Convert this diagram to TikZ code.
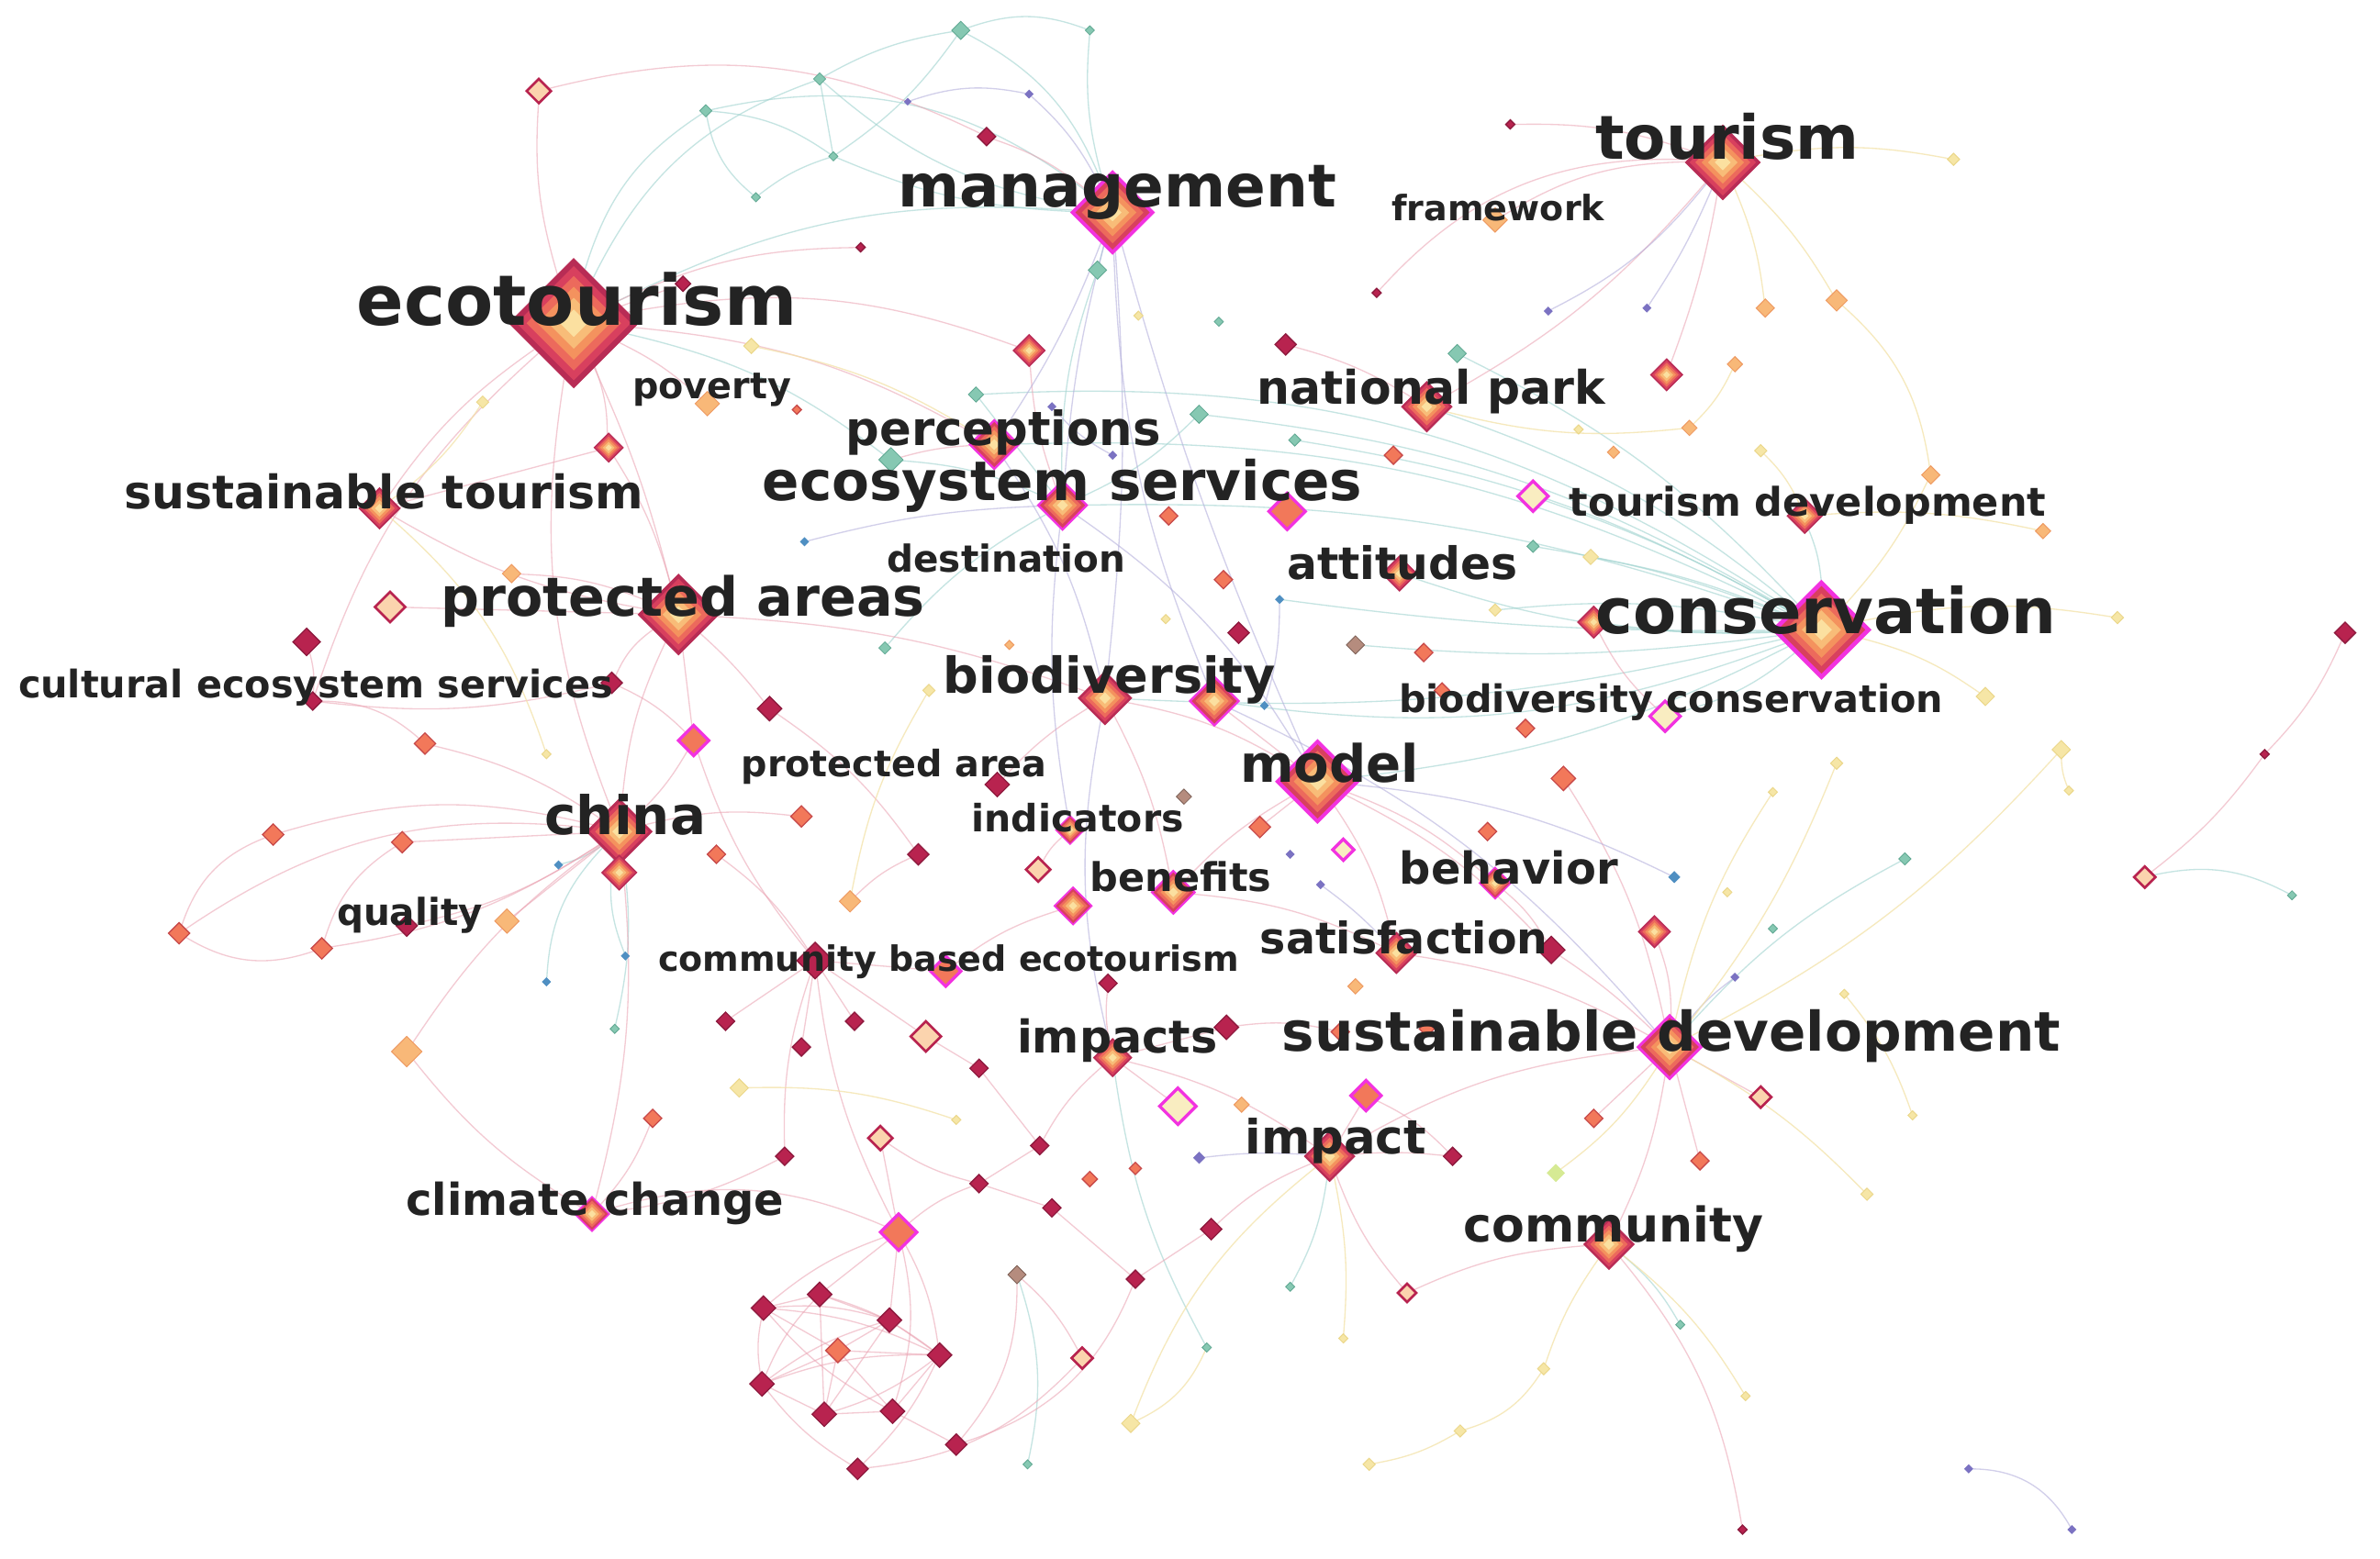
\documentclass[tikz,border=0pt]{standalone}
\usepackage{fontspec}
\setmainfont{DejaVu Sans}
\usetikzlibrary{shapes.geometric}
\pgfdeclarelayer{bg}
\pgfsetlayers{bg,main}
\definecolor{crim}{HTML}{B8234F}
\definecolor{crimD}{HTML}{8E1A3E}
\definecolor{orng}{HTML}{F2785A}
\definecolor{orngD}{HTML}{C84A4A}
\definecolor{pch}{HTML}{F8B878}
\definecolor{pchD}{HTML}{EE9A62}
\definecolor{yel}{HTML}{F6E6A6}
\definecolor{yelD}{HTML}{EBD78A}
\definecolor{tea}{HTML}{86C8B2}
\definecolor{teaD}{HTML}{5FA892}
\definecolor{vio}{HTML}{7B72C2}
\definecolor{mgt}{HTML}{F232E0}
\definecolor{blu}{HTML}{4F8FC2}
\definecolor{brn}{HTML}{B58C7E}
\definecolor{pgr}{HTML}{D6EA94}
\definecolor{crimB}{HTML}{B82C55}
\definecolor{hA}{HTML}{D8405E}
\definecolor{hB}{HTML}{EC6A5C}
\definecolor{hC}{HTML}{F4925E}
\definecolor{hD}{HTML}{F8BC78}
\definecolor{hE}{HTML}{FBE0A0}
\definecolor{txt}{HTML}{232323}
\definecolor{eTc}{HTML}{9FD3CF}
\definecolor{ePc}{HTML}{EAA0B0}
\definecolor{eYc}{HTML}{F3E2A8}
\definecolor{eVc}{HTML}{B4B0DC}
\tikzset{
  dm/.style={diamond, inner sep=0pt, outer sep=0pt, minimum size=#1*1pt},
  kcr/.style={fill=crim, draw=crimD, line width=0.8pt},
  kor/.style={fill=orng, draw=orngD, line width=0.8pt},
  kpe/.style={fill=pch, draw=pchD, line width=0.6pt},
  kye/.style={fill=yel, draw=yelD, line width=0.6pt},
  kte/.style={fill=tea, draw=teaD, line width=0.5pt},
  kvi/.style={fill=vio},
  kmh/.style={fill=yel!70!white, draw=mgt, line width=2pt},
  krh/.style={fill=pch!60!white, draw=crim, line width=1.6pt},
  kmr/.style={fill=orng, draw=mgt, line width=2pt},
  kbl/.style={fill=blu},
  kbr/.style={fill=brn, draw=brn!70!black, line width=0.5pt},
  kpg/.style={fill=pgr},
  eT/.style={draw=eTc, line width=0.8pt, opacity=0.6},
  eP/.style={draw=ePc, line width=0.8pt, opacity=0.55},
  eY/.style={draw=eYc, line width=0.8pt, opacity=0.75},
  eV/.style={draw=eVc, line width=0.8pt, opacity=0.6},
  lab/.style={text=txt, inner sep=0pt, outer sep=0pt},
}
\newcommand\hub[5]{%
  \node[dm={2*#4}, fill=#5] (#1) at (#2,#3) {};
  \node[dm={1.75*#4}, fill=hA] at (#2,#3) {};
  \node[dm={1.45*#4}, fill=hB] at (#2,#3) {};
  \node[dm={1.12*#4}, fill=hC] at (#2,#3) {};
  \node[dm={0.78*#4}, fill=hD] at (#2,#3) {};
  \node[dm={0.42*#4}, fill=hE] at (#2,#3) {};
}
\newcommand\sn[4]{\node[dm={2*#3}, #4] (n#1a#2) at (#1,#2) {};}
\newcommand\lbl[5]{\node[lab, font=\bfseries\fontsize{#4}{#4}\selectfont] (#1) at (#2,#3) {#5};}
\begin{document}
\begin{tikzpicture}[x=1pt,y=-1pt]
\useasboundingbox (0,0) rectangle (1568,1027);
% ---------- small nodes ----------
\sn{633}{20}{6}{kte}
\sn{355}{60}{8}{krh}
\sn{650}{90}{6}{kcr}
\sn{465}{73}{4}{kte}
\sn{540}{52}{4}{kte}
\sn{498}{130}{3}{kte}
\sn{549}{103}{3}{kte}
\sn{678}{62}{3}{kvi}
\sn{718}{20}{3}{kte}
\sn{598}{67}{2.5}{kvi}
\sn{567}{163}{3}{kcr}
\sn{995}{82}{3}{kcr}
\sn{907}{193}{3}{kcr}
\sn{1020}{205}{3}{kvi}
\sn{1085}{203}{3}{kvi}
\sn{1287}{105}{4}{kye}
\sn{723}{178}{6}{kte}
\sn{847}{227}{7}{kcr}
\sn{803}{212}{3}{kte}
\sn{750}{208}{3}{kye}
\sn{960}{233}{6}{kte}
\sn{1163}{203}{6}{kpe}
\sn{1210}{198}{7}{kpe}
\sn{1143}{240}{5}{kpe}
\sn{1113}{282}{5}{kpe}
\sn{1160}{297}{4}{kye}
\sn{1272}{313}{6}{kpe}
\sn{1346}{350}{5}{kpe}
\sn{918}{300}{6}{kor}
\sn{790}{273}{6}{kte}
\sn{853}{290}{4}{kte}
\sn{643}{260}{5}{kte}
\sn{693}{268}{3}{kvi}
\sn{733}{300}{3}{kvi}
\sn{587}{303}{8}{kte}
\sn{848}{337}{12}{kmr}
\sn{1010}{327}{10}{kmh}
\sn{1040}{283}{3}{kye}
\sn{1063}{298}{4}{kpe}
\sn{770}{340}{6}{kor}
\sn{806}{382}{6}{kor}
\sn{816}{417}{7}{kcr}
\sn{893}{425}{6}{kbr}
\sn{938}{430}{6}{kor}
\sn{985}{402}{4}{kye}
\sn{1048}{367}{5}{kye}
\sn{1010}{360}{4}{kte}
\sn{1395}{407}{4}{kye}
\sn{1545}{417}{7}{kcr}
\sn{1492}{497}{3}{kcr}
\sn{1413}{578}{7}{krh}
\sn{1308}{459}{6}{kye}
\sn{1358}{494}{6}{kye}
\sn{1363}{521}{3}{kye}
\sn{1255}{566}{4}{kte}
\sn{1168}{522}{3}{kye}
\sn{1210}{503}{4}{kye}
\sn{1030}{513}{8}{kor}
\sn{1005}{480}{6}{kor}
\sn{980}{548}{6}{kor}
\sn{1097}{472}{10}{kmh}
\sn{1103}{578}{4}{kbl}
\sn{1138}{588}{3}{kye}
\sn{1168}{612}{3}{kte}
\sn{1022}{626}{9}{kcr}
\sn{1160}{723}{7}{krh}
\sn{1143}{644}{3}{kvi}
\sn{1215}{655}{3}{kye}
\sn{1260}{735}{3}{kye}
\sn{1050}{737}{6}{kor}
\sn{1120}{765}{6}{kor}
\sn{1025}{773}{6}{kpg}
\sn{1230}{787}{4}{kye}
\sn{1107}{873}{3}{kte}
\sn{1150}{920}{3}{kye}
\sn{1148}{1008}{3}{kcr}
\sn{1297}{968}{3}{kvi}
\sn{1365}{1008}{3}{kvi}
\sn{927}{852}{6}{krh}
\sn{957}{762}{6}{kcr}
\sn{1017}{902}{4}{kye}
\sn{962}{943}{4}{kye}
\sn{902}{965}{4}{kye}
\sn{885}{882}{3}{kye}
\sn{850}{848}{3}{kte}
\sn{795}{888}{3}{kte}
\sn{745}{938}{6}{kye}
\sn{713}{895}{7}{krh}
\sn{677}{965}{3}{kte}
\sn{630}{952}{7}{kcr}
\sn{565}{968}{7}{kcr}
\sn{670}{840}{6}{kbr}
\sn{748}{843}{6}{kcr}
\sn{798}{810}{7}{kcr}
\sn{693}{796}{6}{kcr}
\sn{718}{777}{5}{kor}
\sn{748}{770}{4}{kor}
\sn{790}{763}{4}{kvi}
\sn{776}{729}{12}{kmh}
\sn{818}{728}{5}{kpe}
\sn{900}{722}{10}{kmr}
\sn{883}{680}{6}{kor}
\sn{940}{678}{5}{kor}
\sn{808}{677}{8}{kcr}
\sn{893}{650}{5}{kpe}
\sn{850}{563}{3}{kvi}
\sn{885}{560}{7}{kmh}
\sn{870}{583}{3}{kvi}
\sn{830}{545}{7}{kor}
\sn{780}{525}{5}{kbr}
\sn{730}{648}{6}{kcr}
\sn{684}{573}{8}{krh}
\sn{657}{517}{8}{kcr}
\sn{623}{640}{10}{kmr}
\sn{610}{683}{10}{krh}
\sn{560}{594}{7}{kpe}
\sn{605}{563}{7}{kcr}
\sn{528}{538}{7}{kor}
\sn{537}{633}{12}{kcr}
\sn{507}{467}{8}{kcr}
\sn{457}{488}{10}{kmr}
\sn{403}{450}{7}{kcr}
\sn{360}{497}{3}{kye}
\sn{334}{607}{8}{kpe}
\sn{268}{610}{7}{kcr}
\sn{280}{490}{7}{kor}
\sn{265}{555}{7}{kor}
\sn{180}{550}{7}{kor}
\sn{118}{615}{7}{kor}
\sn{212}{625}{7}{kor}
\sn{202}{423}{9}{kcr}
\sn{257}{400}{10}{krh}
\sn{206}{462}{6}{kcr}
\sn{337}{378}{6}{kpe}
\sn{466}{266}{8}{kpe}
\sn{318}{265}{4}{kye}
\sn{495}{228}{5}{kye}
\sn{450}{187}{5}{kcr}
\sn{525}{270}{3}{kor}
\sn{368}{570}{3}{kbl}
\sn{412}{630}{3}{kbl}
\sn{360}{647}{3}{kbl}
\sn{405}{678}{3}{kte}
\sn{268}{693}{10}{kpe}
\sn{472}{563}{6}{kor}
\sn{430}{737}{6}{kor}
\sn{487}{717}{6}{kye}
\sn{478}{673}{6}{kcr}
\sn{528}{690}{6}{kcr}
\sn{563}{673}{6}{kcr}
\sn{517}{762}{6}{kcr}
\sn{580}{750}{8}{krh}
\sn{645}{704}{6}{kcr}
\sn{630}{738}{3}{kye}
\sn{685}{755}{6}{kcr}
\sn{645}{780}{6}{kcr}
\sn{592}{812}{12}{kmr}
\sn{503}{862}{8}{kcr}
\sn{540}{853}{8}{kcr}
\sn{586}{870}{8}{kcr}
\sn{552}{890}{8}{kor}
\sn{502}{912}{8}{kcr}
\sn{543}{932}{8}{kcr}
\sn{588}{930}{8}{kcr}
\sn{619}{893}{8}{kcr}
\sn{583}{427}{4}{kte}
\sn{530}{357}{3}{kbl}
\sn{665}{425}{3}{kpe}
\sn{843}{395}{3}{kbl}
\sn{833}{465}{3}{kbl}
\sn{950}{455}{5}{kor}
\sn{612}{455}{4}{kye}
\sn{768}{408}{3}{kye}
\sn{1510}{590}{3}{kte}
% ---------- hubs ----------
\hub{h678}{678}{231}{11}{crimB}
\hub{h1098}{1098}{247}{11}{crimB}
\hub{h1050}{1050}{410}{11}{crimB}
\hub{h1090}{1090}{614}{11}{crimB}
\hub{h401}{401}{295}{10}{crimB}
\hub{eco}{378}{213}{43}{crimB}
\hub{mgmt}{733}{140}{28}{mgt}
\hub{tour}{1135}{107}{25}{crimB}
\hub{natp}{940}{268}{17}{crimB}
\hub{perc}{655}{293}{17}{mgt}
\hub{ecos}{700}{333}{17}{mgt}
\hub{sust}{250}{335}{14}{crimB}
\hub{tdev}{1189}{340}{12}{crimB}
\hub{pa}{447}{405}{27}{crimB}
\hub{cons}{1200}{415}{33}{mgt}
\hub{bio}{728}{460}{18}{crimB}
\hub{bioB}{800}{462}{17}{mgt}
\hub{model}{868}{515}{28}{mgt}
\hub{china}{408}{548}{22}{crimB}
\hub{chinaB}{408}{575}{12}{crimB}
\hub{att}{922}{378}{12}{crimB}
\hub{imps}{733}{697}{13}{crimB}
\hub{sd}{1100}{690}{22}{mgt}
\hub{imp}{876}{762}{17}{crimB}
\hub{comm}{1060}{820}{17}{crimB}
\hub{cc}{390}{800}{12}{mgt}
\hub{sat}{920}{628}{14}{crimB}
\hub{beh}{985}{582}{11}{mgt}
\hub{ben}{773}{588}{15}{mgt}
\hub{benB}{707}{597}{13}{mgt}
\hub{ind}{705}{547}{10}{mgt}
\node[dm=16, kpe] (fw) at (985,145) {};
% ---------- edges ----------
\begin{pgfonlayer}{bg}
\fill[white] (0,0) rectangle (1568,1027);
% teal
\draw[eT] (cons) to[bend left=5] (h1050);
\draw[eT] (cons) to[bend left=10] (att);
\draw[eT] (cons) to[bend right=10] (ecos);
\draw[eT] (cons) to[bend right=14] (perc);
\draw[eT] (cons) to[bend right=10] (natp);
\draw[eT] (cons) to[bend right=6] (n1010a360);
\draw[eT] (cons) to[bend right=10] (n853a290);
\draw[eT] (cons) to[bend right=12] (n790a273);
\draw[eT] (cons) to[bend left=8] (bio);
\draw[eT] (cons) to[bend right=5] (n1010a327);
\draw[eT] (cons) to[bend left=10] (model);
\draw[eT] (cons) to[bend left=4] (n843a395);
\draw[eT] (cons) to[bend left=6] (n893a425);
\draw[eT] (cons) to[bend right=8] (n985a402);
\draw[eT] (cons) to[bend right=8] (tdev);
\draw[eT] (cons) to[bend left=12] (n1097a472);
\draw[eT] (cons) to[bend right=18] (n643a260);
\draw[eT] (cons) to[bend left=14] (bioB);
\draw[eT] (cons) to[bend right=6] (n1048a367);
\draw[eT] (mgmt) to (n723a178);
\draw[eT] (mgmt) to[bend right=20] (n633a20);
\draw[eT] (mgmt) to[bend right=25] (n465a73);
\draw[eT] (mgmt) to[bend left=15] (n540a52);
\draw[eT] (mgmt) to[bend left=10] (n718a20);
\draw[eT] (mgmt) to[bend left=10] (n549a103);
\draw[eT] (n465a73) to[bend right=20] (n498a130);
\draw[eT] (n465a73) to[bend left=15] (n549a103);
\draw[eT] (n540a52) to (n549a103);
\draw[eT] (n540a52) to[bend left=10] (n633a20);
\draw[eT] (n498a130) to[bend left=10] (n549a103);
\draw[eT] (n633a20) to[bend left=20] (n718a20);
\draw[eT] (n549a103) to[bend right=10] (n633a20);
\draw[eT] (eco) to[bend left=20] (n465a73);
\draw[eT] (eco) to[bend left=15] (mgmt);
\draw[eT] (eco) to[bend left=22] (n540a52);
\draw[eT] (n643a260) to (ecos);
\draw[eT] (n790a273) to[bend left=10] (ecos);
\draw[eT] (n587a303) to[bend left=10] (ecos);
\draw[eT] (n587a303) to[bend right=12] (eco);
\draw[eT] (n723a178) to[bend right=10] (ecos);
\draw[eT] (n960a233) to[bend left=10] (cons);
\draw[eT] (sd) to[bend left=10] (n1255a566);
\draw[eT] (n1413a578) to[bend left=20] (n1510a590);
\draw[eT] (china) to[bend left=10] (n368a570);
\draw[eT] (china) to[bend right=15] (n412a630);
\draw[eT] (china) to[bend right=20] (n360a647);
\draw[eT] (china) to[bend left=10] (n405a678);
\draw[eT] (n583a427) to[bend left=10] (ecos);
\draw[eT] (comm) to[bend left=10] (n1107a873);
\draw[eT] (imp) to[bend left=10] (n850a848);
\draw[eT] (n795a888) to[bend left=10] (imps);
\draw[eT] (n677a965) to[bend right=15] (n670a840);
% pink
\draw[eP] (tour) to[bend right=15] (fw);
\draw[eP] (tour) to[bend right=10] (n995a82);
\draw[eP] (tour) to[bend right=25] (n907a193);
\draw[eP] (tour) to[bend left=10] (natp);
\draw[eP] (tour) to[bend left=5] (h1098);
\draw[eP] (eco) to[bend left=10] (h401);
\draw[eP] (eco) to (n450a187);
\draw[eP] (eco) to[bend left=12] (n567a163);
\draw[eP] (eco) to[bend right=10] (sust);
\draw[eP] (eco) to[bend left=5] (pa);
\draw[eP] (eco) to[bend right=15] (china);
\draw[eP] (eco) to[bend left=12] (perc);
\draw[eP] (eco) to[bend left=10] (n355a60);
\draw[eP] (eco) to[bend right=15] (n206a462);
\draw[eP] (eco) to[bend left=15] (h678);
\draw[eP] (eco) to[bend left=8] (n466a266);
\draw[eP] (n355a60) to[bend left=20] (n650a90);
\draw[eP] (n650a90) to[bend left=10] (mgmt);
\draw[eP] (pa) to[bend left=10] (sust);
\draw[eP] (pa) to[bend right=10] (china);
\draw[eP] (pa) to (n257a400);
\draw[eP] (pa) to[bend left=5] (n507a467);
\draw[eP] (pa) to[bend left=8] (bio);
\draw[eP] (pa) to (n457a488);
\draw[eP] (pa) to[bend right=10] (n337a378);
\draw[eP] (pa) to[bend right=15] (n403a450);
\draw[eP] (china) to (n265a555);
\draw[eP] (china) to[bend left=10] (n268a610);
\draw[eP] (china) to[bend right=10] (n280a490);
\draw[eP] (china) to (n334a607);
\draw[eP] (china) to[bend right=15] (n180a550);
\draw[eP] (china) to[bend right=20] (n118a615);
\draw[eP] (china) to[bend left=12] (n212a625);
\draw[eP] (china) to[bend left=10] (cc);
\draw[eP] (china) to[bend right=10] (n268a693);
\draw[eP] (china) to[bend left=10] (n528a538);
\draw[eP] (china) to[bend right=8] (n457a488);
\draw[eP] (n118a615) to[bend left=25] (n180a550);
\draw[eP] (n212a625) to[bend left=20] (n265a555);
\draw[eP] (n118a615) to[bend right=25] (n212a625);
\draw[eP] (n202a423) to[bend left=10] (n206a462);
\draw[eP] (n206a462) to[bend right=10] (n403a450);
\draw[eP] (n206a462) to[bend left=20] (n280a490);
\draw[eP] (n503a862) to (n540a853);
\draw[eP] (n503a862) to[bend left=10] (n586a870);
\draw[eP] (n503a862) to (n552a890);
\draw[eP] (n503a862) to[bend right=10] (n502a912);
\draw[eP] (n503a862) to[bend left=10] (n619a893);
\draw[eP] (n503a862) to[bend right=10] (n588a930);
\draw[eP] (n540a853) to (n586a870);
\draw[eP] (n540a853) to[bend right=10] (n502a912);
\draw[eP] (n540a853) to (n543a932);
\draw[eP] (n540a853) to[bend left=10] (n619a893);
\draw[eP] (n586a870) to (n552a890);
\draw[eP] (n586a870) to (n619a893);
\draw[eP] (n586a870) to[bend right=10] (n502a912);
\draw[eP] (n586a870) to (n543a932);
\draw[eP] (n552a890) to (n502a912);
\draw[eP] (n552a890) to (n543a932);
\draw[eP] (n552a890) to (n588a930);
\draw[eP] (n552a890) to (n619a893);
\draw[eP] (n502a912) to (n543a932);
\draw[eP] (n502a912) to[bend left=10] (n619a893);
\draw[eP] (n543a932) to (n588a930);
\draw[eP] (n588a930) to (n619a893);
\draw[eP] (n543a932) to[bend right=10] (n619a893);
\draw[eP] (n592a812) to (n540a853);
\draw[eP] (n592a812) to (n586a870);
\draw[eP] (n592a812) to[bend right=10] (n503a862);
\draw[eP] (n592a812) to[bend left=15] (n588a930);
\draw[eP] (n592a812) to[bend left=10] (n619a893);
\draw[eP] (n592a812) to[bend right=20] (cc);
\draw[eP] (n592a812) to[bend left=10] (n537a633);
\draw[eP] (n592a812) to (n580a750);
\draw[eP] (n592a812) to[bend left=10] (n645a780);
\draw[eP] (n565a968) to[bend left=10] (n502a912);
\draw[eP] (n565a968) to[bend right=10] (n619a893);
\draw[eP] (n630a952) to (n588a930);
\draw[eP] (n630a952) to[bend right=20] (n670a840);
\draw[eP] (n565a968) to[bend right=20] (n713a895);
\draw[eP] (n670a840) to[bend left=10] (n713a895);
\draw[eP] (n630a952) to[bend right=25] (n748a843);
\draw[eP] (n537a633) to (n478a673);
\draw[eP] (n537a633) to (n528a690);
\draw[eP] (n537a633) to (n563a673);
\draw[eP] (n537a633) to[bend right=10] (n517a762);
\draw[eP] (n537a633) to (n610a683);
\draw[eP] (n537a633) to (n623a640);
\draw[eP] (n537a633) to[bend left=10] (n457a488);
\draw[eP] (n537a633) to[bend right=10] (n472a563);
\draw[eP] (n645a704) to (n685a755);
\draw[eP] (n685a755) to (n645a780);
\draw[eP] (n645a780) to (n693a796);
\draw[eP] (n693a796) to (n748a843);
\draw[eP] (n748a843) to (n798a810);
\draw[eP] (n610a683) to (n645a704);
\draw[eP] (n580a750) to[bend right=10] (n645a780);
\draw[eP] (imps) to (n808a677);
\draw[eP] (imps) to (n776a729);
\draw[eP] (imps) to[bend left=10] (imp);
\draw[eP] (imps) to[bend right=10] (n685a755);
\draw[eP] (imps) to[bend left=8] (n730a648);
\draw[eP] (imp) to (n900a722);
\draw[eP] (imp) to[bend left=5] (n957a762);
\draw[eP] (imp) to[bend left=12] (sd);
\draw[eP] (imp) to[bend right=10] (n927a852);
\draw[eP] (imp) to[bend right=10] (n798a810);
\draw[eP] (sd) to[bend left=8] (comm);
\draw[eP] (sd) to (n1160a723);
\draw[eP] (sd) to[bend right=10] (h1090);
\draw[eP] (sd) to (n1050a737);
\draw[eP] (sd) to (n1120a765);
\draw[eP] (sd) to[bend right=10] (sat);
\draw[eP] (sd) to[bend right=5] (n1022a626);
\draw[eP] (comm) to[bend left=15] (n1148a1008);
\draw[eP] (comm) to[bend right=10] (n927a852);
\draw[eP] (model) to (bioB);
\draw[eP] (model) to[bend right=10] (bio);
\draw[eP] (model) to (n830a545);
\draw[eP] (model) to[bend left=10] (sat);
\draw[eP] (model) to[bend left=10] (beh);
\draw[eP] (model) to[bend right=8] (ben);
\draw[eP] (model) to[bend left=10] (n1022a626);
\draw[eP] (n1545a417) to[bend left=10] (n1492a497);
\draw[eP] (n1492a497) to[bend left=8] (n1413a578);
\draw[eP] (bio) to[bend right=8] (n657a517);
\draw[eP] (bio) to[bend left=8] (ben);
\draw[eP] (ind) to[bend right=10] (n684a573);
\draw[eP] (ben) to[bend left=10] (sat);
\draw[eP] (benB) to[bend right=10] (n623a640);
\draw[eP] (n605a563) to[bend right=10] (n560a594);
\draw[eP] (n507a467) to[bend left=10] (n605a563);
\draw[eP] (n457a488) to[bend right=10] (n403a450);
\draw[eP] (h401) to (sust);
\draw[eP] (h401) to[bend left=8] (pa);
\draw[eP] (perc) to[bend right=6] (n587a303);
\draw[eP] (ecos) to[bend left=8] (h678);
\draw[eP] (n847a227) to[bend left=8] (natp);
\draw[eP] (h1050) to[bend right=10] (n1097a472);
\draw[eP] (n1030a513) to[bend left=10] (sd);
\draw[eP] (beh) to[bend left=10] (n1022a626);
\draw[eP] (n808a677) to[bend left=10] (n883a680);
\draw[eP] (n900a722) to[bend left=10] (n957a762);
\draw[eP] (n268a693) to[bend right=10] (cc);
\draw[eP] (n430a737) to[bend left=10] (cc);
\draw[eP] (n517a762) to[bend left=10] (cc);
% violet
\draw[eV] (tour) to[bend left=12] (n1020a205);
\draw[eV] (tour) to[bend left=5] (n1085a203);
\draw[eV] (n598a67) to[bend left=15] (n678a62);
\draw[eV] (n678a62) to[bend left=10] (mgmt);
\draw[eV] (mgmt) to[bend left=5] (bio);
\draw[eV] (mgmt) to[bend right=5] (ecos);
\draw[eV] (mgmt) to[bend right=4] (model);
\draw[eV] (mgmt) to[bend left=6] (perc);
\draw[eV] (mgmt) to[bend right=10] (bioB);
\draw[eV] (n790a763) to[bend left=5] (imp);
\draw[eV] (n870a583) to[bend left=5] (sat);
\draw[eV] (n693a268) to[bend right=10] (n733a300);
\draw[eV] (ecos) to[bend right=8] (ind);
\draw[eV] (ecos) to[bend left=12] (model);
\draw[eV] (perc) to[bend left=10] (bio);
\draw[eV] (bio) to[bend right=12] (imps);
\draw[eV] (bioB) to[bend left=12] (sd);
\draw[eV] (n843a395) to[bend left=8] (n833a465);
\draw[eV] (n1143a644) to[bend right=8] (sd);
\draw[eV] (n1297a968) to[bend left=30] (n1365a1008);
\draw[eV] (ecos) to[bend right=6] (n530a357);
\draw[eV] (model) to[bend left=10] (n1103a578);
% yellow
\draw[eY] (tour) to[bend left=10] (n1287a105);
\draw[eY] (tour) to[bend left=8] (n1163a203);
\draw[eY] (tour) to[bend left=8] (n1210a198);
\draw[eY] (n1395a407) to[bend right=10] (cons);
\draw[eY] (n1308a459) to[bend right=10] (cons);
\draw[eY] (n1358a494) to[bend left=10] (sd);
\draw[eY] (n1272a313) to[bend left=8] (cons);
\draw[eY] (n1346a350) to[bend right=8] (tdev);
\draw[eY] (n1210a503) to[bend left=8] (sd);
\draw[eY] (n1230a787) to[bend right=8] (sd);
\draw[eY] (n1260a735) to[bend right=10] (n1215a655);
\draw[eY] (n1017a902) to[bend left=8] (comm);
\draw[eY] (n962a943) to[bend left=10] (n902a965);
\draw[eY] (n745a938) to[bend left=15] (imp);
\draw[eY] (n885a882) to[bend right=8] (imp);
\draw[eY] (n1150a920) to[bend right=10] (comm);
\draw[eY] (n1363a521) to[bend left=10] (n1358a494);
\draw[eY] (n1168a522) to[bend right=10] (sd);
\draw[eY] (n1143a240) to[bend left=10] (n1113a282);
\draw[eY] (n1113a282) to[bend left=10] (natp);
\draw[eY] (n1160a297) to[bend left=10] (tdev);
\draw[eY] (n1210a198) to[bend left=20] (n1272a313);
\draw[eY] (n318a265) to[bend left=10] (sust);
\draw[eY] (n495a228) to[bend left=10] (perc);
\draw[eY] (n612a455) to[bend right=10] (n560a594);
\draw[eY] (n487a717) to[bend left=10] (n630a738);
\draw[eY] (n962a943) to[bend right=20] (n1017a902);
\draw[eY] (n1025a773) to[bend right=10] (sd);
\draw[eY] (n745a938) to[bend right=20] (n795a888);
\draw[eY] (n360a497) to[bend right=15] (sust);
\end{pgfonlayer}
% ---------- labels ----------
\lbl{Leco}{380}{197}{46}{ecotourism}
\lbl{Lmgmt}{736}{127}{39}{management}
\lbl{Ltour}{1138}{90}{40}{tourism}
\lbl{Lfw}{987}{137}{23}{framework}
\lbl{Lpov}{469}{257}{24}{poverty}
\lbl{Lnatp}{943}{258}{30.5}{national park}
\lbl{Lperc}{661}{285}{31}{perceptions}
\lbl{Lecos}{700}{320}{36}{ecosystem services}
\lbl{Lsust}{253}{324}{30.5}{sustainable tourism}
\lbl{Ltdev}{1191}{333}{26}{tourism development}
\lbl{Ldest}{663}{368}{24.5}{destination}
\lbl{Latt}{924}{371}{29.5}{attitudes}
\lbl{Lpa}{450}{396}{35.5}{protected areas}
\lbl{Lcons}{1203}{402}{41.5}{conservation}
\lbl{Lces}{208}{453}{25}{cultural ecosystem services}
\lbl{Lbio}{731}{448}{32.7}{biodiversity}
\lbl{Lbc}{1101}{463}{25}{biodiversity conservation}
\lbl{Lpa2}{589}{505}{24}{protected area}
\lbl{Lmodel}{876}{503}{34}{model}
\lbl{Lchina}{412}{537}{35}{china}
\lbl{Lind}{710}{539}{24.8}{indicators}
\lbl{Lbeh}{994}{572}{29}{behavior}
\lbl{Lben}{778}{578}{26}{benefits}
\lbl{Lqual}{270}{603}{24.5}{quality}
\lbl{Lsat}{925}{618}{28.7}{satisfaction}
\lbl{Lcbe}{625}{634}{23}{community based ecotourism}
\lbl{Limps}{736}{686}{29.7}{impacts}
\lbl{Lsd}{1101}{683}{36}{sustainable development}
\lbl{Limp}{880}{752}{31}{impact}
\lbl{Lcc}{392}{793}{29}{climate change}
\lbl{Lcomm}{1063}{810}{31.5}{community}
\end{tikzpicture}
\end{document}
